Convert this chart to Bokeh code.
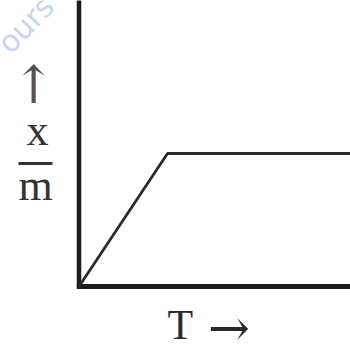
from bokeh.plotting import figure
from bokeh.models import Range1d, Label, BoxAnnotation
from bokeh.embed import file_html
from bokeh.resources import INLINE

# data: adsorption (x/m) vs temperature T
T_vals = [0.0, 1.0, 3.2]
xm_vals = [0.0, 1.0, 1.0]

W, H = 350, 349
X0, Y0, UX, UY = 78.5, 286.0, 88.5, 133.0  # origin position and unit sizes in pixels

x_start, x_end = (0 - X0) / UX, (W - X0) / UX
y_start, y_end = (Y0 - H) / UY, Y0 / UY

p = figure(width=W, height=H, output_backend="svg", toolbar_location=None,
           x_range=Range1d(x_start, x_end), y_range=Range1d(y_start, y_end),
           min_border_left=0, min_border_right=0, min_border_top=0,
           min_border_bottom=0)
p.axis.visible = False
p.grid.visible = False
p.outline_line_color = None
p.background_fill_color = "white"
p.border_fill_color = "white"

# axis spines (T axis and x/m axis)
p.line([0, 0], [0, y_end + 0.1], line_color="#1c1c1c", line_width=4.5)
p.line([-2.25 / UX, x_end + 0.1], [0, 0], line_color="#1c1c1c", line_width=5)

# curve
p.line(T_vals, xm_vals, line_color="#2a2a2a", line_width=2.8)

OFF = 17.5  # baseline correction

def sx(x_shot):
    return x_shot

def sy(y_shot):
    return H - y_shot

serif = "Liberation Serif"
p.add_layout(Label(x=sx(33), y=sy(84), x_units="screen", y_units="screen", text="↑",
                   text_font="DejaVu Serif", text_font_size="52px", text_color="#5a5252",
                   text_align="center", text_baseline="middle"))
p.add_layout(Label(x=sx(37), y=sy(147 - OFF), x_units="screen", y_units="screen", text="x",
                   text_font=serif, text_font_size="44px", text_color="#333333",
                   text_align="center", text_baseline="alphabetic"))
p.add_layout(BoxAnnotation(left=sx(18), right=sx(52), bottom=sy(164.5), top=sy(161.5),
                           left_units="screen", right_units="screen",
                           bottom_units="screen", top_units="screen",
                           fill_color="#333333", fill_alpha=1, line_color=None))
p.add_layout(Label(x=sx(35), y=sy(202 - OFF), x_units="screen", y_units="screen", text="m",
                   text_font=serif, text_font_size="44px", text_color="#333333",
                   text_align="center", text_baseline="alphabetic"))
p.add_layout(Label(x=sx(167), y=sy(342 - OFF), x_units="screen", y_units="screen", text="T",
                   text_font=serif, text_font_size="42px", text_color="#2a2a2a",
                   text_align="left", text_baseline="alphabetic"))
p.add_layout(Label(x=sx(228.5), y=sy(327), x_units="screen", y_units="screen", text="→",
                   text_font="DejaVu Serif", text_font_size="50px", text_color="#2a2a2a",
                   text_align="center", text_baseline="middle"))
p.add_layout(Label(x=sx(2.4), y=sy(47.5), x_units="screen", y_units="screen", text="ours",
                   text_font="DejaVu Sans", text_font_size="30px", text_color="#c4d6f4",
                   angle=0.8, text_align="left", text_baseline="alphabetic"))

open("out.html", "w").write(file_html(p, INLINE))
